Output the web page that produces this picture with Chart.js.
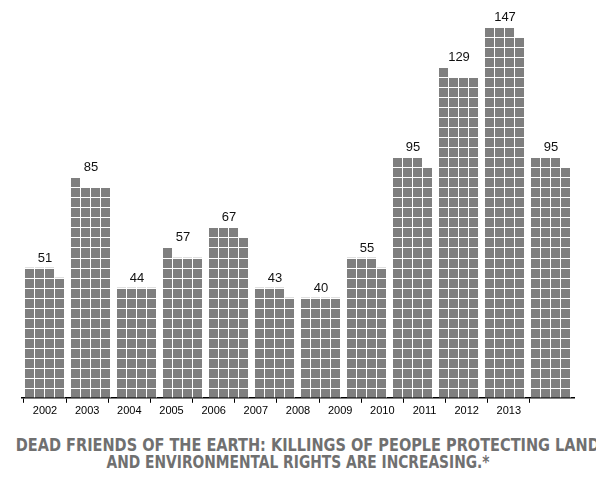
<!DOCTYPE html>
<html>
<head>
<meta charset="utf-8">
<script src="https://cdn.jsdelivr.net/npm/chart.js@4/dist/chart.umd.min.js"></script>
<style>
  body { margin:0; background:#fff; width:596px; height:496px; overflow:hidden; }
  #wrap { position:absolute; left:0; top:0; width:596px; height:420px; }
  #titre { position:absolute; left:0; top:437px; width:596px; text-align:center;
    font-family:"DejaVu Sans Condensed","DejaVu Sans"; font-weight:bold; font-size:17px;
    line-height:17px; color:#707070; white-space:nowrap; }
  #titre span { display:inline-block; transform-origin:center; }
</style>
</head>
<body>
<div id="wrap"><canvas id="chart"></canvas></div>
<div id="titre"><span id="l1">DEAD FRIENDS OF THE EARTH: KILLINGS OF PEOPLE PROTECTING LAND</span><br><span id="l2">AND ENVIRONMENTAL RIGHTS ARE INCREASING.*</span></div>
<script>
const annees  = ['2002','2003','2004','2005','2006','2007','2008','2009','2010','2011','2012','2013'];
const victimes = [51, 85, 44, 57, 67, 43, 40, 55, 95, 129, 147, 95];
const parLigne = 4;   // squares per row
const lignesMax = 39;

// each bar = 4 sub-columns of squares, one square per person
const colonne = (j) => victimes.map(v => Math.floor(v / parLigne) + (j < v % parLigne ? 1 : 0));

const grille = {
  id: 'grille',
  afterDatasetsDraw(chart) {
    const { ctx, chartArea: a, scales: { y } } = chart;
    ctx.save();
    ctx.strokeStyle = '#fff';
    ctx.lineWidth = 1;
    for (let r = 1; r <= lignesMax; r++) {
      const py = Math.round(y.getPixelForValue(r)) + 0.5;
      ctx.beginPath(); ctx.moveTo(a.left, py); ctx.lineTo(a.right, py); ctx.stroke();
    }
    // value labels
    ctx.fillStyle = '#111';
    ctx.font = '13px "Liberation Sans", Arial';
    ctx.textAlign = 'center';
    ctx.textBaseline = 'alphabetic';
    const m0 = chart.getDatasetMeta(0), m3 = chart.getDatasetMeta(3);
    victimes.forEach((v, i) => {
      const cx = (m0.data[i].x + m3.data[i].x) / 2;
      const top = y.getPixelForValue(colonne(0)[i]);
      ctx.fillText(v, cx, top - 6);
    });
    ctx.restore();
  }
};

new Chart(document.getElementById('chart'), {
  type: 'bar',
  data: {
    labels: annees,
    datasets: [0, 1, 2, 3].map(j => ({
      data: colonne(j),
      backgroundColor: '#7f7f7f',
      borderColor: '#fff',
      borderWidth: { left: 0, right: 1, top: 0, bottom: 0 },
      borderSkipped: false,
      barPercentage: 1,
      categoryPercentage: 40 / 46
    }))
  },
  options: {
    responsive: true,
    maintainAspectRatio: false,
    animation: false,
    layout: { padding: { left: 22, right: 22, top: 7, bottom: 0 } },
    plugins: { legend: { display: false }, tooltip: { enabled: false } },
    scales: {
      x: { display: false },
      x2: {
        type: 'linear', position: 'bottom', min: 2002, max: 2014,
        afterBuildTicks: (s) => { s.ticks = s.ticks.filter(t => t.value < 2014); },
        ticks: { stepSize: 1, autoSkip: false, color: '#000', padding: 2,
          font: { family: '"Liberation Sans", Arial', size: 11 }, callback: v => String(v) },
        grid: { drawOnChartArea: false, color: '#000', tickLength: 5 },
        border: { color: '#000', width: 1.5 }
      },
      y: { display: false, min: 0, max: lignesMax }
    }
  },
  plugins: [grille]
});

['l1', 'l2'].forEach(id => {
  const el = document.getElementById(id);
  const w = el.getBoundingClientRect().width;
  const cible = id === 'l1' ? 584 : 383;
  el.style.transform = 'scaleX(' + (cible / w) + ')';
});
</script>
</body>
</html>
